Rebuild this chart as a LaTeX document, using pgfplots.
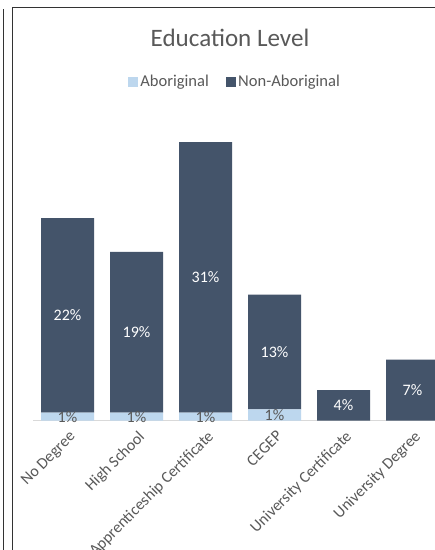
\documentclass[border=0pt]{standalone}
\usepackage{pgfplots}
\pgfplotsset{compat=1.18}
\usepackage{pgfplotstable}
\usepackage{fontspec}
\setmainfont{Carlito}
\definecolor{darkbar}{HTML}{44546A}
\definecolor{lightbar}{HTML}{BDD7EE}
\definecolor{txt}{HTML}{595959}
\definecolor{axisgray}{HTML}{D9D9D9}
\definecolor{frame}{HTML}{333333}

\pgfplotstableread{
x ab abl non nonl
0 0.93 1 22.49 22
1 0.93 1 18.60 19
2 0.93 1 31.30 31
3 1.32 1 13.26 13
4 0 {} 3.55 4
5 0 {} 7.06 7
}\edudata

\begin{document}
\begin{tikzpicture}
\path[use as bounding box] (0,0) rectangle (326.25pt,412.5pt);
\begin{scope}
\clip (0,0) rectangle (326.25pt,412.5pt);
\fill[white] (0,0) rectangle (326.25pt,412.5pt);
\draw[frame, line width=1.1pt] (2.625pt,0) -- (2.625pt,405.75pt);
\draw[frame, line width=1.1pt] (9.5pt,0) -- (9.5pt,406.7pt) -- (340pt,406.7pt);
\begin{axis}[
  at={(24.75pt,96.975pt)}, anchor=south west,
  x=51.75pt, y=6.484pt,
  xmin=-0.5, xmax=5.5, ymin=0, ymax=35,
  enlargelimits=false,
  ybar stacked, bar width=39.75pt,
  axis y line=none,
  axis x line=bottom,
  x axis line style={draw=axisgray, line width=0.9pt, -},
  xtick={0,...,5},
  xticklabels={No Degree, High School, Apprenticeship Certificate, CEGEP, University Certificate, University Degree},
  xtick style={draw=none},
  xticklabel style={xshift=0.75pt, yshift=-3pt, rotate=45, anchor=north east, font=\fontsize{12}{14}\selectfont, text=txt, inner sep=1pt},
  clip=false,
  legend columns=-1,
  legend style={draw=none, fill=none, at={(axis description cs:0.489,1.119)}, anchor=center,
    font=\fontsize{12.4}{14}\selectfont, text=txt, inner sep=0pt, nodes={inner sep=2pt},
    /tikz/every even column/.append style={column sep=11pt}},
]
\addplot[fill=lightbar, draw=none,
  legend image code/.code={\fill[lightbar] (0pt,-3.4pt) rectangle (7pt,3.6pt);},
  point meta=explicit symbolic,
  nodes near coords={\ifx\pgfplotspointmeta\empty\else\pgfplotspointmeta\%\fi},
  every node near coord/.append style={anchor=center, text=txt, font=\fontsize{12}{14}\selectfont, inner sep=0pt},
] table[x=x, y=ab, meta=abl] {\edudata};
\addlegendentry{Aboriginal}
\addplot[fill=darkbar, draw=none,
  legend image code/.code={\fill[darkbar] (0pt,-3.4pt) rectangle (7pt,3.6pt);},
  point meta=explicit symbolic,
  nodes near coords={\pgfplotspointmeta\%},
  every node near coord/.append style={anchor=center, text=white, font=\fontsize{12}{14}\selectfont, inner sep=0pt},
] table[x=x, y=non, meta=nonl] {\edudata};
\addlegendentry{Non-Aboriginal}
\end{axis}
\node[font=\fontsize{18.8}{22}\selectfont, text=txt, anchor=base] at (172.5pt,377.5pt) {Education Level};
\end{scope}
\end{tikzpicture}
\end{document}
